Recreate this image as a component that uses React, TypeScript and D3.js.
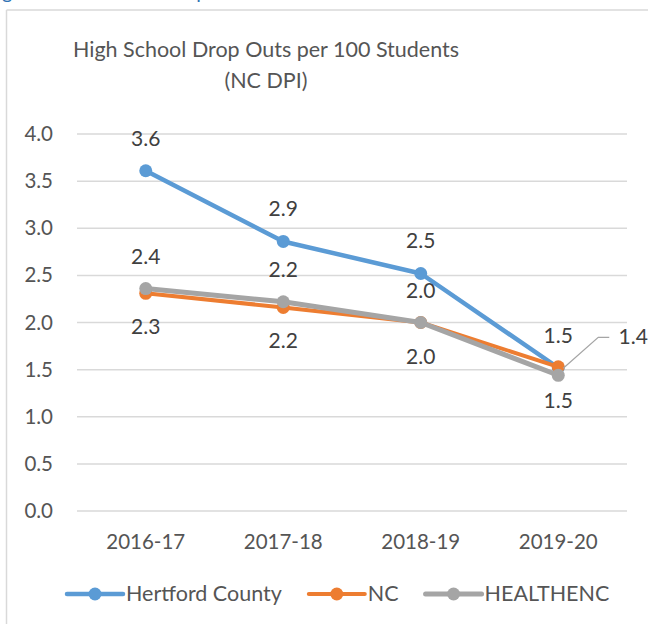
import { useMemo } from "react";
import { format, line as d3Line, scaleLinear, scalePoint } from "d3";

const categories = ["2016-17", "2017-18", "2018-19", "2019-20"];
const hertford = [3.61, 2.86, 2.52, 1.52];
const nc = [2.31, 2.16, 2.0, 1.53];
const healthenc = [2.36, 2.22, 2.0, 1.44];
const yTicks = [0, 0.5, 1, 1.5, 2, 2.5, 3, 3.5, 4];
const titleLines = ["High School Drop Outs per 100 Students", "(NC DPI)"];

const width = 648;
const height = 624;
const fontFamily = "Lato, 'Open Sans', sans-serif";
const textColor = "#555555";
const labelColor = "#404040";
const gridColor = "#D9D9D9";
const tickFont = 20.5;
const labelFont = 21;
const legendFont = 21.5;

type Series = {
  name: string;
  values: number[];
  color: string;
  strokeWidth: number;
  labelDy: number[];
};

const series: Series[] = [
  { name: "Hertford County", values: hertford, color: "#5B9BD5", strokeWidth: 4.5, labelDy: [-25, -25, -25, -25] },
  { name: "NC", values: nc, color: "#ED7D31", strokeWidth: 4, labelDy: [41, 41, 41, 41] },
  { name: "HEALTHENC", values: healthenc, color: "#A5A5A5", strokeWidth: 5, labelDy: [-25, -25, -25, 0] }
];

const fmt = format(".1f");

function measure(text: string, size: number) {
  const ctx = document.createElement("canvas").getContext("2d");
  if (!ctx) return text.length * size * 0.5;
  ctx.font = `${size}px Lato`;
  return ctx.measureText(text).width;
}

export default function App() {
  const x = useMemo(() => scalePoint<string>().domain(categories).range([77, 627]).padding(0.5), []);
  const y = useMemo(() => scaleLinear().domain([0, 4]).range([511, 134]), []);
  const path = d3Line<number>()
    .x((_, i) => x(categories[i]) ?? 0)
    .y((d) => y(d));

  // legend layout from measured text widths
  let cursor = 67;
  const legendItems = series.map((s) => {
    const item = { s, x0: cursor, tx: cursor + 59 };
    cursor = item.tx + measure(s.name, legendFont) + 27;
    return item;
  });

  const greyLast = healthenc.length - 1;
  const gx = x(categories[greyLast]) ?? 0;
  const gy = y(healthenc[greyLast]);

  return (
    <div style={{ position: "fixed", left: 0, top: 0, width, height, overflow: "hidden" }}>
      <svg width={width} height={height} style={{ display: "block", background: "#fff" }} fontFamily={fontFamily}>
        <text x={-14} y={-1} fontSize={20} fill="#2E74B5">
          Figure 35: Trends in Drop Outs
        </text>
        {/* chart frame: only the top and left edges are inside the crop */}
        <line x1={6.5} x2={width} y1={10} y2={10} stroke={gridColor} strokeWidth={1.5} />
        <line x1={6.5} x2={6.5} y1={10} y2={height} stroke={gridColor} strokeWidth={1.5} />

        {titleLines.map((t, i) => (
          <text key={t} x={266} y={57 + i * 31} textAnchor="middle" fontSize={21.5} fill={textColor}>
            {t}
          </text>
        ))}

        {yTicks.map((t) => (
          <g key={t}>
            <line x1={77} x2={627} y1={y(t)} y2={y(t)} stroke={gridColor} strokeWidth={1.5} />
            <text x={53} y={y(t) + 7} textAnchor="end" fontSize={tickFont} fill={textColor}>
              {fmt(t)}
            </text>
          </g>
        ))}

        {categories.map((c) => (
          <text key={c} x={x(c)} y={549} textAnchor="middle" fontSize={tickFont} fill={textColor}>
            {c}
          </text>
        ))}

        {series.map((s) => (
          <g key={s.name}>
            <path d={path(s.values) ?? undefined} fill="none" stroke={s.color} strokeWidth={s.strokeWidth} strokeLinejoin="round" strokeLinecap="round" />
            {s.values.map((v, i) => (
              <circle key={i} cx={x(categories[i])} cy={y(v)} r={6.5} fill={s.color} />
            ))}
          </g>
        ))}

        {series.map((s) =>
          s.values.map((v, i) =>
            s.labelDy[i] === 0 ? null : (
              <text key={`${s.name}-${i}`} x={x(categories[i])} y={y(v) + s.labelDy[i]} textAnchor="middle" fontSize={labelFont} fill={labelColor}>
                {fmt(v)}
              </text>
            )
          )
        )}

        {/* leader line for the last HEALTHENC label */}
        <polyline points={`${gx + 5},${gy - 7} ${gx + 40},${gy - 38} ${gx + 51},${gy - 38}`} fill="none" stroke="#A5A5A5" strokeWidth={1.2} />
        <text x={gx + 75} y={gy - 31} textAnchor="middle" fontSize={labelFont} fill={labelColor}>
          {fmt(healthenc[greyLast])}
        </text>

        {legendItems.map(({ s, x0, tx }) => (
          <g key={s.name}>
            <line x1={x0} x2={x0 + 56} y1={594} y2={594} stroke={s.color} strokeWidth={s.strokeWidth} strokeLinecap="round" />
            <circle cx={x0 + 28} cy={594} r={6.5} fill={s.color} />
            <text x={tx} y={601} fontSize={legendFont} fill={textColor}>
              {s.name}
            </text>
          </g>
        ))}
      </svg>
    </div>
  );
}
